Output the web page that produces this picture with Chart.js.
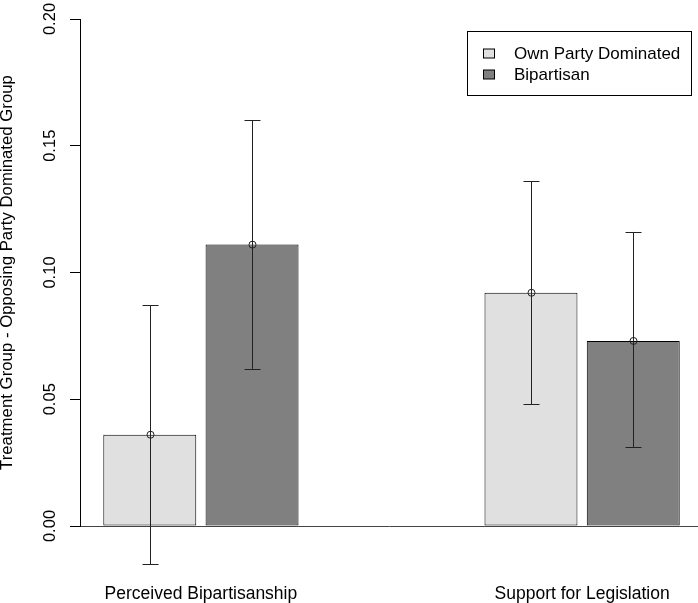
<!DOCTYPE html>
<html>
<head>
<meta charset="utf-8">
<script src="https://cdn.jsdelivr.net/npm/chart.js@4/dist/chart.umd.min.js"></script>
<style>
  html, body { margin: 0; padding: 0; background: #ffffff; }
  #c { display: block; }
</style>
</head>
<body>
<canvas id="c" width="698" height="603"></canvas>
<script>
// ---- data ----
const categories = ["Perceived Bipartisanship", "Support for Legislation"];
const seriesNames = ["Own Party Dominated", "Bipartisan"];
const ownPartyValues = [0.036, 0.092];
const ownPartyLower  = [-0.015, 0.048];
const ownPartyUpper  = [0.087, 0.136];
const bipartisanValues = [0.111, 0.073];
const bipartisanLower  = [0.062, 0.031];
const bipartisanUpper  = [0.160, 0.116];
const yTicks = [0.00, 0.05, 0.10, 0.15, 0.20];
const yTitle = "Treatment Group - Opposing Party Dominated Group";

const FONT = '"Liberation Sans", Arial, Helvetica, sans-serif';
const FS = 16.5;
Chart.defaults.font.family = FONT;
Chart.defaults.font.size = FS;
Chart.defaults.color = '#000';

const toPoints = vals => vals.map((v, i) => ({ x: i + 1, y: v }));

const errorBars = [
  { lower: ownPartyLower, upper: ownPartyUpper },
  { lower: bipartisanLower, upper: bipartisanUpper }
];

const errorBarPlugin = {
  id: 'errorBars',
  afterDatasetsDraw(chart) {
    const ctx = chart.ctx;
    const ys = chart.scales.y;
    ctx.save();
    ctx.strokeStyle = '#222';
    ctx.lineWidth = 1;
    chart.data.datasets.forEach((ds, di) => {
      const meta = chart.getDatasetMeta(di);
      meta.data.forEach((bar, i) => {
        const x = Math.round(bar.x) + 0.5;
        const yt = ys.getPixelForValue(errorBars[di].upper[i]);
        const yb = ys.getPixelForValue(errorBars[di].lower[i]);
        ctx.beginPath();
        ctx.moveTo(x, yt); ctx.lineTo(x, yb);
        ctx.moveTo(x - 8, Math.round(yt) + 0.5); ctx.lineTo(x + 8, Math.round(yt) + 0.5);
        ctx.moveTo(x - 8, Math.round(yb) + 0.5); ctx.lineTo(x + 8, Math.round(yb) + 0.5);
        ctx.stroke();
        ctx.beginPath();
        ctx.arc(x, bar.y, 3.5, 0, Math.PI * 2);
        ctx.stroke();
      });
    });
    ctx.restore();
  }
};

const legendPlugin = {
  id: 'boxLegend',
  afterDraw(chart) {
    const ctx = chart.ctx;
    ctx.save();
    ctx.strokeStyle = '#000';
    ctx.lineWidth = 1;
    ctx.strokeRect(467.5, 31.5, 224, 64);
    ctx.font = '17px ' + FONT;
    ctx.textBaseline = 'middle';
    ctx.textAlign = 'left';
    chart.data.datasets.forEach((ds, i) => {
      const cy = 53.5 + i * 21;
      ctx.fillStyle = ds.backgroundColor;
      ctx.fillRect(483.5, cy - 4.5, 11, 9);
      ctx.strokeRect(483.5, cy - 4.5, 11, 9);
      ctx.fillStyle = '#000';
      ctx.fillText(ds.label, 514, cy + 1);
    });
    ctx.restore();
  }
};

new Chart(document.getElementById('c'), {
  type: 'bar',
  data: {
    datasets: [
      { label: seriesNames[0], data: toPoints(ownPartyValues), backgroundColor: '#e0e0e0', borderColor: '#000', borderWidth: 1, borderSkipped: false },
      { label: seriesNames[1], data: toPoints(bipartisanValues), backgroundColor: '#808080', borderColor: '#000', borderWidth: 1, borderSkipped: false }
    ]
  },
  options: {
    responsive: false,
    animation: false,
    devicePixelRatio: 1,
    events: [],
    categoryPercentage: 0.5366,
    barPercentage: 0.909,
    layout: { padding: { top: 19, left: 0, right: 0, bottom: 0 }, autoPadding: false },
    plugins: { legend: { display: false }, tooltip: { enabled: false } },
    scales: {
      x: {
        type: 'linear',
        min: 0.6828,
        max: 2.304,
        offset: false,
        bounds: 'data',
        grid: { display: false },
        border: { display: true, color: '#444', width: 1 },
        afterBuildTicks: s => { s.ticks = categories.map((c, i) => ({ value: i + 1 })); },
        afterFit: s => { s.height = 77; s.paddingLeft = 0; s.paddingRight = 0; },
        ticks: {
          autoSkip: false, maxRotation: 0, minRotation: 0, padding: 50,
          font: { size: 17.5 },
          callback: v => categories[v - 1]
        }
      },
      y: {
        type: 'linear',
        min: yTicks[0],
        max: yTicks[yTicks.length - 1],
        afterBuildTicks: s => { s.ticks = yTicks.map(v => ({ value: v })); },
        afterFit: s => { s.width = 80; s.paddingTop = 0; s.paddingBottom = 0; },
        grid: { display: true, drawOnChartArea: false, drawTicks: true, tickLength: 10, color: '#000', lineWidth: 1 },
        border: { display: true, color: '#000', width: 1 },
        ticks: {
          minRotation: 90, maxRotation: 90, crossAlign: 'center', padding: 3,
          font: { size: FS },
          callback: v => Number(v).toFixed(2)
        },
        title: {
          display: true, text: yTitle,
          font: { size: 16.8, lineHeight: 0.875 },
          padding: 0
        }
      }
    }
  },
  plugins: [errorBarPlugin, legendPlugin]
});
</script>
</body>
</html>
